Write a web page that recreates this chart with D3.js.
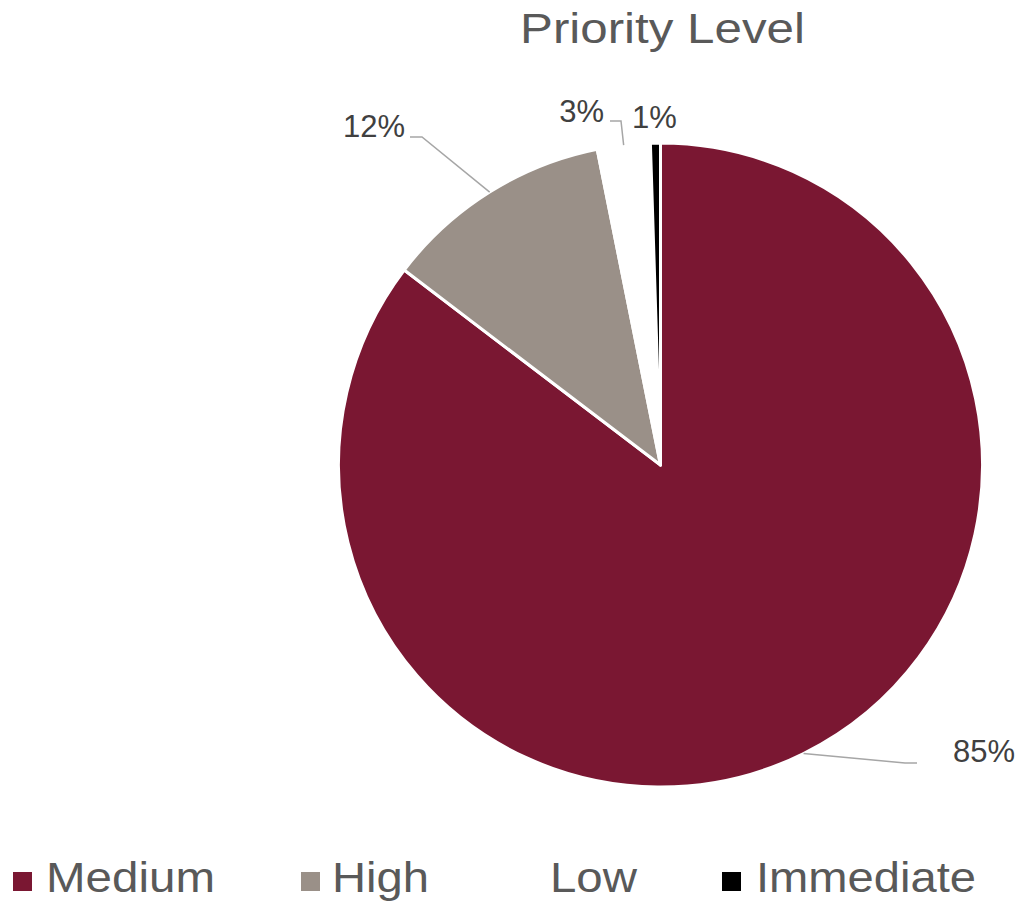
<!DOCTYPE html>
<html>
<head>
<meta charset="utf-8">
<script src="https://cdn.jsdelivr.net/npm/d3@7"></script>
<style>
  html,body{margin:0;padding:0;background:#fff;}
  svg{display:block;font-family:"Liberation Sans",Arial,sans-serif;}
</style>
</head>
<body>
<svg id="chart" width="1020" height="907"></svg>
<script>
// ---- data ----
const categories = ["Medium", "High", "Low", "Immediate"];
const values = [85.35, 11.5, 2.65, 0.5];
const colors = ["#7A1732", "#9A9088", "#FFFFFF", "#000000"];
const title = "Priority Level";

// ---- layout (label placements, legend placements) ----
const labelLayout = [
  {elbow:[905,763], end:[917,763], tx:953, ty:762, anchor:"start", line:true},
  {elbow:[422,137], end:[410,137], tx:405, ty:137, anchor:"end", line:true},
  {elbow:[621,121], end:[610,121], tx:604, ty:122, anchor:"end", line:true},
  {elbow:null, end:null, tx:632, ty:128, anchor:"start", line:false}
];
const legendLayout = [
  {mx:13, tx:46, tl:169},
  {mx:301, tx:332, tl:97},
  {mx:517, tx:550, tl:87},
  {mx:722, tx:756, tl:220}
];

const svg = d3.select("#chart");
const cx = 660.5, cy = 465, r = 322;

// title
svg.append("text")
  .attr("x", 520).attr("y", 43)
  .attr("font-size", 42).attr("fill", "#595959")
  .attr("textLength", 285).attr("lengthAdjust", "spacingAndGlyphs")
  .text(title);

const data = categories.map((c,i)=>({cat:c, value:values[i], color:colors[i]}));
const pie = d3.pie().value(d=>d.value).sort(null).startAngle(0).endAngle(2*Math.PI);
const arcs = pie(data);
const arc = d3.arc().innerRadius(0).outerRadius(r);

const g = svg.append("g").attr("transform", `translate(${cx},${cy})`);
g.selectAll("path.slice").data(arcs).enter().append("path")
  .attr("class","slice")
  .attr("d", arc)
  .attr("fill", d=>d.data.color)
  .attr("stroke", "#fff").attr("stroke-width", 3).attr("stroke-linejoin","round");

// labels with leader lines
const labelArc = d3.arc().innerRadius(r).outerRadius(r);
arcs.forEach((a,i)=>{
  const L = labelLayout[i];
  if (L.line) {
    const mid = (a.startAngle + a.endAngle)/2;
    const sx = cx + r*Math.sin(mid), sy = cy - r*Math.cos(mid);
    svg.append("polyline")
      .attr("points", [[sx,sy], L.elbow, L.end].map(p=>p.join(",")).join(" "))
      .attr("fill","none").attr("stroke","#A6A6A6").attr("stroke-width",1.5);
  }
  svg.append("text")
    .attr("x", L.tx).attr("y", L.ty)
    .attr("text-anchor", L.anchor)
    .attr("font-size", 31).attr("fill", "#404040")
    .text(Math.round(a.data.value) + "%");
});

// legend
const leg = svg.append("g");
data.forEach((d,i)=>{
  const L = legendLayout[i];
  leg.append("rect")
    .attr("x", L.mx).attr("y", 872).attr("width", 19).attr("height", 19)
    .attr("fill", d.color);
  leg.append("text")
    .attr("x", L.tx).attr("y", 892)
    .attr("font-size", 42).attr("fill", "#595959")
    .attr("textLength", L.tl).attr("lengthAdjust", "spacingAndGlyphs")
    .text(d.cat);
});
</script>
</body>
</html>
